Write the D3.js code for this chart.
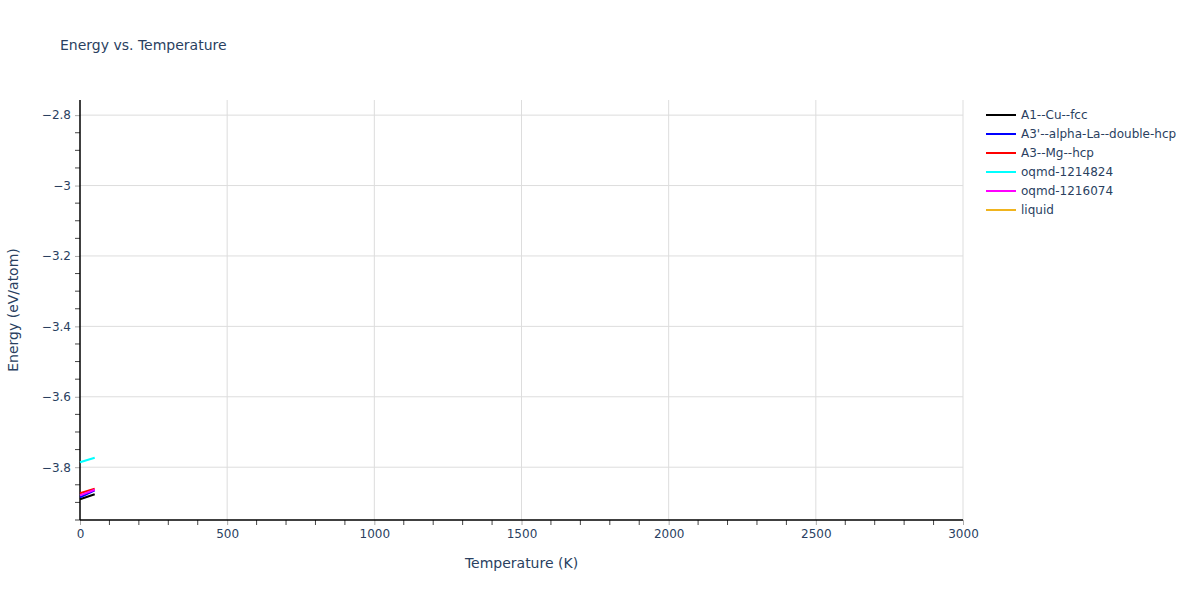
<!DOCTYPE html>
<html>
<head>
<meta charset="utf-8">
<title>Energy vs. Temperature</title>
<script src="https://cdn.jsdelivr.net/npm/d3@7"></script>
<style>
  body { margin: 0; background: #fff; }
  text { font-family: "DejaVu Sans", verdana, arial, sans-serif; fill: #2a3f5f; }
</style>
</head>
<body>
<script>
// series data (temperature in K, energy in eV/atom)
var temps = [0, 50];
var names = ["A1--Cu--fcc", "A3'--alpha-La--double-hcp", "A3--Mg--hcp", "oqmd-1214824", "oqmd-1216074", "liquid"];
var colors = ["#000000", "#0000ff", "#ff0000", "#00ffff", "#ff00ff", "#f0b41e"];
var energyCu = [-3.891, -3.877];
var energyLa = [-3.886, -3.866];
var energyMg = [-3.874, -3.861];
var energy1214824 = [-3.786, -3.773];
var energy1216074 = [-3.880, -3.864];
var energyLiquid = [];
var xTicks = [0, 500, 1000, 1500, 2000, 2500, 3000];
var yTicks = [-3.8, -3.6, -3.4, -3.2, -3, -2.8];

var width = 1200, height = 600;
var mLeft = 80, mRight = 963, mTop = 100, mBottom = 520;

var xScale = d3.scaleLinear().domain([0, 3000]).range([mLeft, mRight]);
var yScale = d3.scaleLinear().domain([-3.95, -2.757]).range([mBottom, mTop]);

var svg = d3.select("body").append("svg")
    .attr("width", width)
    .attr("height", height);

// grid
svg.append("g").selectAll("line").data(xTicks.slice(1)).enter().append("line")
    .attr("x1", function(d) { return xScale(d); })
    .attr("x2", function(d) { return xScale(d); })
    .attr("y1", mTop).attr("y2", mBottom)
    .attr("stroke", "#dddddd").attr("stroke-width", 1);
svg.append("g").selectAll("line").data(yTicks).enter().append("line")
    .attr("x1", mLeft).attr("x2", mRight)
    .attr("y1", function(d) { return yScale(d); })
    .attr("y2", function(d) { return yScale(d); })
    .attr("stroke", "#dddddd").attr("stroke-width", 1);

// minor ticks (every 100 K, every 0.05 eV)
var xMinor = d3.range(0, 3001, 100).filter(function(d) { return d % 500 !== 0; });
var yMinor = d3.range(-3.95, -2.75, 0.05).map(function(d) { return Math.round(d * 100) / 100; })
    .filter(function(d) { return d <= -2.757 && Math.abs(Math.round(d * 5) - d * 5) > 1e-6; });

var xAxis = d3.axisBottom(xScale).tickValues(xTicks).tickSize(5).tickPadding(4)
    .tickFormat(d3.format("d"));
var gx = svg.append("g").attr("transform", "translate(0," + mBottom + ")").call(xAxis);
gx.select(".domain").remove();
gx.selectAll(".tick line").attr("stroke", "#aaaaaa");
gx.selectAll("text").attr("font-size", 12).style("fill", "#2a3f5f");
svg.append("g").selectAll("line").data(xMinor).enter().append("line")
    .attr("x1", function(d) { return xScale(d); })
    .attr("x2", function(d) { return xScale(d); })
    .attr("y1", mBottom).attr("y2", mBottom + 5)
    .attr("stroke", "#444");

var yAxis = d3.axisLeft(yScale).tickValues(yTicks).tickSize(5).tickPadding(4)
    .tickFormat(function(d) { return d3.format("")(d).replace("-", "\u2212"); });
var gy = svg.append("g").attr("transform", "translate(" + mLeft + ",0)").call(yAxis);
gy.select(".domain").remove();
gy.selectAll(".tick line").attr("stroke", "#aaaaaa");
gy.selectAll("text").attr("font-size", 12).style("fill", "#2a3f5f");
svg.append("g").selectAll("line").data(yMinor).enter().append("line")
    .attr("x1", mLeft - 5).attr("x2", mLeft)
    .attr("y1", function(d) { return yScale(d); })
    .attr("y2", function(d) { return yScale(d); })
    .attr("stroke", "#444");

// axis lines
svg.append("line").attr("x1", mLeft).attr("x2", mRight).attr("y1", mBottom).attr("y2", mBottom)
    .attr("stroke", "#000").attr("stroke-width", 1.5);
svg.append("line").attr("x1", mLeft).attr("x2", mLeft).attr("y1", mTop).attr("y2", mBottom)
    .attr("stroke", "#000").attr("stroke-width", 1.5);

// series
var series = [energyCu, energyLa, energyMg, energy1214824, energy1216074, energyLiquid];
var line = d3.line()
    .x(function(d, i) { return xScale(temps[i]); })
    .y(function(d) { return yScale(d); });
svg.append("g").selectAll("path").data(series).enter().append("path")
    .filter(function(d) { return d.length > 0; })
    .attr("d", line)
    .attr("fill", "none")
    .attr("stroke", function(d) { return colors[series.indexOf(d)]; })
    .attr("stroke-width", 2);

// titles
svg.append("text").attr("x", 60).attr("y", 50).attr("font-size", 14)
    .text("Energy vs. Temperature");
svg.append("text").attr("x", (mLeft + mRight) / 2).attr("y", 568).attr("font-size", 14)
    .attr("text-anchor", "middle").text("Temperature (K)");
svg.append("text").attr("transform", "translate(18," + ((mTop + mBottom) / 2) + ") rotate(-90)")
    .attr("font-size", 14).attr("text-anchor", "middle").text("Energy (eV/atom)");

// legend
var legend = svg.append("g").attr("transform", "translate(986,115)");
var items = legend.selectAll("g").data(names).enter().append("g")
    .attr("transform", function(d, i) { return "translate(0," + (i * 19) + ")"; });
items.append("line").attr("x1", 0).attr("x2", 30).attr("y1", 0).attr("y2", 0)
    .attr("stroke", function(d, i) { return colors[i]; }).attr("stroke-width", 2);
items.append("text").attr("x", 35).attr("y", 4).attr("font-size", 12)
    .text(function(d) { return d; });
</script>
</body>
</html>
